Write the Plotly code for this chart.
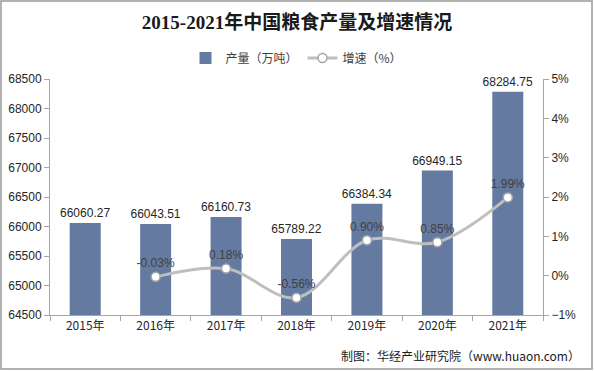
import plotly.graph_objects as go
from plotly.subplots import make_subplots

years = ["2015年", "2016年", "2017年", "2018年", "2019年", "2020年", "2021年"]
output = [66060.27, 66043.51, 66160.73, 65789.22, 66384.34, 66949.15, 68284.75]
growth = [None, -0.03, 0.18, -0.56, 0.90, 0.85, 1.99]

font_cn = "Noto Sans CJK SC"
font_num = "Liberation Sans, Arial, sans-serif"

W, H = 594, 371
L, R, T, B = 50, 51, 79, 56
PW, PH = W - L - R, H - T - B

fig = make_subplots(specs=[[{"secondary_y": True}]])

fig.add_trace(go.Bar(
    x=years, y=output, name="产量（万吨）",
    marker=dict(color="#647AA0", line=dict(width=0)),
    text=[f"{v:.2f}" for v in output], textposition="outside",
    constraintext="none",
    textfont=dict(family=font_num, size=12, color="#262626"),
    cliponaxis=False, hoverinfo="skip",
), secondary_y=False)

fig.add_trace(go.Scatter(
    x=years, y=growth, name="增速（%）", mode="lines+markers+text",
    line=dict(color="#BFBFBF", width=3, shape="spline", smoothing=1.0),
    marker=dict(size=9, color="white", line=dict(color="#A6A6A6", width=1.5)),
    text=[("" if g is None else f"{g:.2f}%") for g in growth],
    textposition="top center",
    textfont=dict(family=font_num, size=12, color="#404040"),
    connectgaps=False, cliponaxis=False, hoverinfo="skip",
), secondary_y=True)

fig.update_layout(
    width=W, height=H,
    margin=dict(l=L, r=R, t=T, b=B, autoexpand=False),
    paper_bgcolor="white", plot_bgcolor="white",
    bargap=0.56, hovermode=False,
    title=dict(text="<b>2015-2021年中国粮食产量及增速情况</b>", x=0.5, xanchor="center",
               y=1 - 22 / H, yanchor="middle",
               font=dict(family="Liberation Serif, Noto Sans CJK SC", size=19, color="#1a1a1a")),
    legend=dict(orientation="h", x=0.5, xanchor="center", y=1 - 58 / H, yref="container",
                yanchor="middle", font=dict(family=font_cn, size=12, color="#404040"),
                bgcolor="rgba(0,0,0,0)"),
    showlegend=True,
)

fig.update_xaxes(
    domain=[0, 1],
    showline=True, linecolor="#A6A6A6", linewidth=1,
    ticks="outside", ticklen=5, tickcolor="#A6A6A6", tickson="boundaries",
    tickfont=dict(family=font_cn, size=12, color="#262626"),
    showgrid=False,
)
fig.update_yaxes(
    range=[64500, 68500], dtick=500, showgrid=False,
    showline=True, linecolor="#A6A6A6", linewidth=1,
    ticks="outside", ticklen=5, tickcolor="#A6A6A6",
    tickfont=dict(family=font_num, size=12, color="#262626"),
    tickformat="d", secondary_y=False,
)
fig.update_yaxes(
    range=[-1, 5], dtick=1, ticksuffix="%", showgrid=False,
    showline=True, linecolor="#A6A6A6", linewidth=1,
    ticks="outside", ticklen=5, tickcolor="#A6A6A6",
    tickfont=dict(family=font_num, size=12, color="#262626"),
    zeroline=False, secondary_y=True,
)

# frame around the whole image
fig.add_shape(type="rect", xref="paper", yref="paper",
              x0=(1 - L) / PW, x1=(W - 2 - L) / PW,
              y0=(T + PH - (H - 2)) / PH, y1=(T + PH - 1) / PH,
              line=dict(color="#999999", width=1.5), fillcolor="rgba(0,0,0,0)")

# source
fig.add_annotation(text="制图：华经产业研究院（www.huaon.com）", xref="paper", yref="paper",
                   x=(582 - L) / PW, y=(T + PH - 355) / PH, xanchor="right", yanchor="middle",
                   showarrow=False, font=dict(family=font_cn, size=12, color="#1a1a1a"))

post = ("document.body.style.margin='0';document.body.style.overflow='hidden';"
        "var gd=document.getElementById('{plot_id}');"
        "Plotly.relayout(gd,{width:%d,height:%d});" % (W, H))

fig.write_html("out.html", post_script=post, config={"displayModeBar": False})
